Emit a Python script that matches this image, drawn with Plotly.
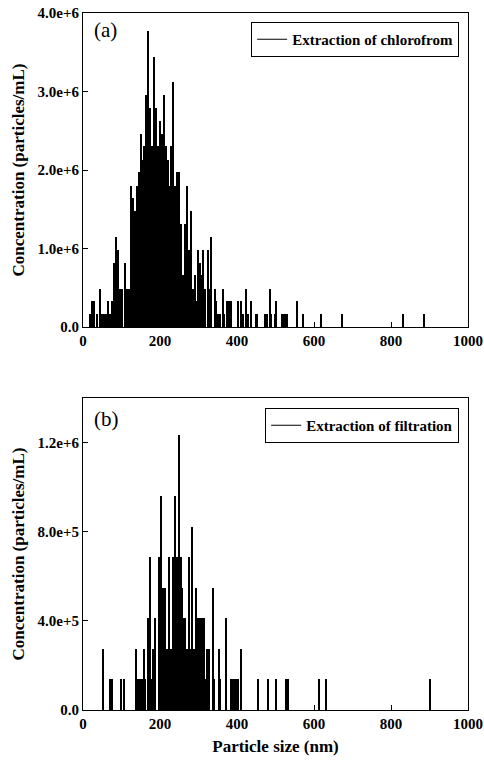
import plotly.graph_objects as go
from plotly.subplots import make_subplots

# ---- Panel (a): extraction of chloroform ----
size_a = [18, 23, 28, 38, 44, 49, 55, 60, 65, 71, 76, 81, 87, 92, 97, 103, 109, 116, 120,
          125, 130, 135, 140, 145, 150, 155, 160, 165, 170, 175, 180, 185, 190, 195, 200,
          205, 210, 215, 220, 225, 229, 234, 239, 244, 249, 255, 260, 265, 270, 276, 281,
          286, 291, 296, 300, 305, 309, 313, 318, 324, 329, 334, 343, 347, 352, 356, 363,
          367, 374, 378, 382, 386, 402, 412, 416, 425, 429, 438, 449, 453, 472, 476, 479,
          485, 489, 500, 503, 518, 522, 526, 530, 557, 572, 619, 673, 832, 887]
conc_a = [0.16e6, 0.33e6, 0.33e6, 0.16e6, 0.49e6, 0.16e6, 0.16e6, 0.16e6, 0.33e6, 0.16e6,
          0.33e6, 0.82e6, 1.15e6, 0.98e6, 0.49e6, 0.49e6, 0.82e6, 0.49e6, 0.49e6,
          1.80e6, 1.64e6, 1.48e6, 1.80e6, 1.97e6, 2.46e6, 2.13e6, 2.30e6, 2.95e6, 3.77e6,
          2.79e6, 2.30e6, 3.44e6, 2.79e6, 2.30e6, 2.62e6, 2.46e6, 2.95e6, 2.30e6, 2.13e6,
          1.80e6, 2.30e6, 3.12e6, 1.80e6, 1.97e6, 1.97e6, 1.31e6, 0.66e6, 1.31e6, 1.80e6,
          0.98e6, 1.48e6, 0.49e6, 0.66e6, 0.33e6, 0.98e6, 0.82e6, 0.66e6, 0.98e6, 0.49e6,
          0.98e6, 0.49e6, 1.15e6, 0.49e6, 0.33e6, 0.16e6, 0.16e6, 0.49e6, 0.16e6, 0.33e6,
          0.33e6, 0.33e6, 0.33e6, 0.33e6, 0.33e6, 0.16e6, 0.49e6, 0.16e6, 0.33e6, 0.16e6,
          0.16e6, 0.16e6, 0.16e6, 0.16e6, 0.49e6, 0.16e6, 0.16e6, 0.33e6, 0.16e6, 0.16e6,
          0.16e6, 0.16e6, 0.33e6, 0.16e6, 0.16e6, 0.16e6, 0.16e6, 0.16e6]

# ---- Panel (b): extraction of filtration ----
size_b = [52, 71, 77, 100, 108, 137, 140, 143, 147, 150, 153, 158, 162, 169, 174, 177, 182,
          187, 197, 203, 208, 213, 218, 223, 228, 231, 234, 239, 244, 249, 254, 258, 262,
          265, 270, 275, 280, 283, 288, 294, 298, 301, 305, 309, 314, 318, 322, 327, 338,
          342, 353, 357, 371, 384, 388, 392, 395, 399, 402, 410, 454, 482, 502, 528, 533,
          613, 631, 902]
conc_b = [2.74e5, 1.37e5, 1.37e5, 1.37e5, 1.37e5, 2.74e5, 1.37e5, 1.37e5, 1.37e5, 1.37e5,
          1.37e5, 2.74e5, 1.37e5, 4.11e5, 6.85e5, 1.37e5, 2.74e5, 4.11e5, 6.85e5, 9.59e5,
          5.48e5, 5.48e5, 2.74e5, 6.85e5, 2.74e5, 2.74e5, 6.85e5, 9.59e5, 6.85e5, 12.33e5,
          6.85e5, 5.48e5, 4.11e5, 4.11e5, 2.74e5, 6.85e5, 2.74e5, 8.22e5, 2.74e5, 5.48e5,
          4.11e5, 4.11e5, 4.11e5, 4.11e5, 4.11e5, 1.37e5, 2.74e5, 2.74e5, 5.48e5, 1.37e5,
          2.74e5, 1.37e5, 4.11e5, 1.37e5, 1.37e5, 1.37e5, 1.37e5, 1.37e5, 1.37e5, 2.74e5,
          1.37e5, 1.37e5, 1.37e5, 1.37e5, 1.37e5, 1.37e5, 1.37e5, 1.37e5]

name_a = "Extraction of chlorofrom"
name_b = "Extraction of filtration"

x_ticks = [0, 200, 400, 600, 800, 1000]
x_ticktext = ["0", "200", "400", "600", "800", "1000"]
ya_ticks = [0, 1e6, 2e6, 3e6, 4e6]
ya_ticktext = ["0.0", "1.0e+6", "2.0e+6", "3.0e+6", "4.0e+6"]
yb_ticks = [0, 4e5, 8e5, 1.2e6]
yb_ticktext = ["0.0", "4.0e+5", "8.0e+5", "1.2e+6"]

FONT = "Liberation Serif, Times New Roman, serif"

fig = make_subplots(rows=2, cols=1, vertical_spacing=0.1)

fig.add_trace(go.Bar(x=size_a, y=conc_a, width=3.6, marker=dict(color="black", line=dict(width=0)),
                     showlegend=False, hoverinfo="skip"), row=1, col=1)
fig.add_trace(go.Scatter(x=[None], y=[None], mode="lines", name=name_a,
                         line=dict(color="black", width=1.2), legend="legend"), row=1, col=1)
fig.add_trace(go.Bar(x=size_b, y=conc_b, width=3.6, marker=dict(color="black", line=dict(width=0)),
                     showlegend=False, hoverinfo="skip"), row=2, col=1)
fig.add_trace(go.Scatter(x=[None], y=[None], mode="lines", name=name_b,
                         line=dict(color="black", width=1.2), legend="legend2"), row=2, col=1)

H = 766
top_m, bot_m = 13, 56
ph = H - top_m - bot_m
def py(px):
    return (H - bot_m - px) / ph

axis_common = dict(showline=True, linecolor="black", linewidth=1, mirror=True, automargin=False,
                   ticks="inside", ticklen=5, tickcolor="black", showgrid=False, zeroline=False,
                   tickfont=dict(family=FONT, size=15, color="black", weight="bold"))

fig.update_xaxes(range=[0, 1000], tickvals=x_ticks, ticktext=x_ticktext, **axis_common)
fig.update_xaxes(title=dict(text="<b>Particle size (nm)</b>", font=dict(family=FONT, size=17, color="black"),
                            standoff=9), row=2, col=1)
fig.update_yaxes(range=[0, 4e6], tickvals=ya_ticks, ticktext=ya_ticktext, row=1, col=1, **axis_common)
fig.update_yaxes(range=[0, 1.4e6], tickvals=yb_ticks, ticktext=yb_ticktext, row=2, col=1, **axis_common)
fig.update_yaxes(title=dict(text="<b>Concentration (particles/mL)</b>",
                            font=dict(family=FONT, size=17, color="black"), standoff=8))

fig.update_layout(
    yaxis=dict(domain=[py(327), 1.0]),
    yaxis2=dict(domain=[0.0, py(398)]),
    width=484, height=766,
    margin=dict(l=83, r=16, t=top_m, b=bot_m, autoexpand=False),
    paper_bgcolor="white", plot_bgcolor="white",
    bargap=0,
    font=dict(family=FONT, color="black"),
    legend=dict(x=0.977, xanchor="right", y=py(22), yanchor="top",
                bordercolor="black", borderwidth=1, bgcolor="white",
                font=dict(family=FONT, size=15, color="black", weight="bold"),
                itemwidth=30),
    legend2=dict(x=0.977, xanchor="right", y=py(408), yanchor="top",
                 bordercolor="black", borderwidth=1, bgcolor="white",
                 font=dict(family=FONT, size=15, color="black", weight="bold"),
                 itemwidth=30),
    annotations=[
        dict(text="(a)", x=0.023, y=py(30), xref="paper", yref="paper", xanchor="left",
             yanchor="middle", showarrow=False, font=dict(family=FONT, size=21, color="black")),
        dict(text="(b)", x=0.023, y=py(419), xref="paper", yref="paper", xanchor="left",
             yanchor="middle", showarrow=False, font=dict(family=FONT, size=21, color="black")),
    ],
)

fig.write_html("out.html", config={"displayModeBar": False},
               post_script="document.body.style.margin='0';document.body.style.overflow='hidden';")
